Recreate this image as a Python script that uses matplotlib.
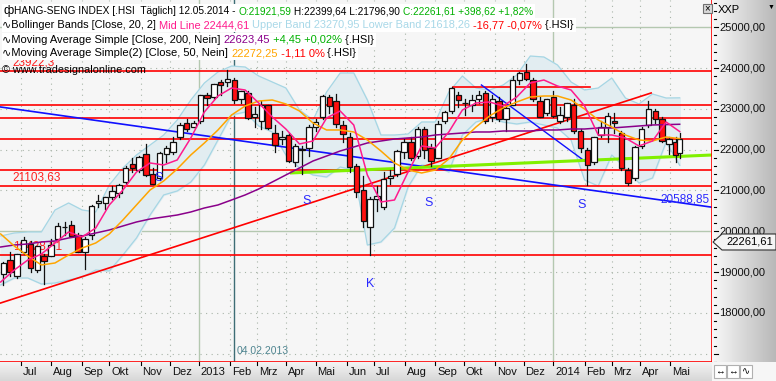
import numpy as np
import pandas as pd
import matplotlib
matplotlib.use("Agg")
import matplotlib.pyplot as plt
from matplotlib.patches import Rectangle, Polygon
from matplotlib.transforms import IdentityTransform

plt.rcParams['font.family'] = ['Liberation Sans', 'DejaVu Sans']

# weekly candles (weeks starting 2012-06-11)
op = [18950, 19300, 18900, 19500, 19700, 19050, 19400, 19400, 19800, 20100,
      20150, 19900, 19500, 19900, 20700, 20700, 20850, 20950, 21200, 21650,
      21500, 21900, 21400, 21300, 21900, 21950, 22300, 22650, 22550, 22700,
      23350, 23300, 23650, 23650, 23700, 23250, 23400, 22800, 22700, 23100,
      22400, 22250, 22350, 21700, 22000, 22050, 22550, 22800, 23300, 23200,
      22600, 22300, 21600, 21000, 20100, 20800, 20600, 21300, 21400, 21950,
      22200, 21850, 22500, 22050, 21800, 22700, 22950, 23350, 23150, 23100,
      23250, 23400, 22800, 23200, 22750, 23100, 23700, 23900, 23700, 23200,
      22900, 23300, 22700, 22800, 23100, 22450, 22000, 21700, 22350, 22550,
      22700, 22400, 21500, 21300, 22100, 22600, 22950, 22750, 22150, 22200,
      21921.59]
hi = [19250, 19500, 19450, 19870, 19750, 19650, 19450, 19800, 20200, 20220,
      20250, 19950, 19850, 20650, 20900, 20850, 21100, 21150, 21600, 21800,
      21850, 22150, 21550, 21950, 22100, 22300, 22650, 22750, 22700, 23350,
      23400, 23620, 23700, 23945, 23750, 23450, 23450, 23050, 23200, 23100,
      22600, 22450, 22400, 22150, 22100, 22600, 22750, 23340, 23350, 23366,
      22700, 22400, 21650, 21350, 20850, 21100, 21450, 21500, 22000, 22250,
      22300, 22550, 22550, 22150, 22700, 22950, 23530, 23420, 23250, 23350,
      23450, 23450, 23350, 23300, 23050, 23800, 23900, 24111, 23750, 23300,
      23250, 23450, 23050, 23150, 23250, 22500, 22050, 22300, 22700, 22900,
      22900, 22450, 21550, 22100, 22550, 23186, 23000, 22800, 22300, 22300,
      22399.64]
lo = [18680, 18900, 18850, 19450, 19000, 19000, 18710, 19400, 19800, 19900,
      19880, 19480, 19076, 19800, 20600, 20550, 20800, 20850, 21150, 21450,
      21450, 21350, 21150, 21250, 21700, 21900, 22250, 22450, 22550, 22650,
      23100, 23250, 23350, 23550, 23150, 23150, 22750, 22550, 22500, 22500,
      21950, 22150, 21700, 21600, 21400, 21850, 22450, 22750, 22900, 22550,
      22200, 21450, 20850, 20100, 19426, 20500, 20550, 21150, 21350, 21800,
      21750, 21800, 21800, 21600, 21800, 22650, 22900, 23050, 22850, 22950,
      23150, 22650, 22700, 22700, 22450, 23100, 23600, 23700, 23200, 22800,
      22850, 22800, 22650, 22700, 22400, 21950, 21137, 21650, 22300, 22200,
      22400, 21500, 21137, 21250, 22050, 22550, 22650, 22200, 21900, 21700,
      21796.90]
cl = [19233, 18995, 19441, 19797, 19092, 19641, 19276, 19666, 20136, 20116,
      19880, 19482, 19802, 20629, 20734, 20840, 20999, 21136, 21551, 21545,
      21830, 21384, 21159, 21913, 22030, 22191, 22606, 22506, 22666, 23331,
      23264, 23601, 23580, 23721, 23215, 23444, 22782, 22880, 23091, 22533,
      22115, 22299, 21727, 22089, 22013, 22547, 22690, 23321, 23082, 22618,
      22392, 21575, 20970, 20263, 20803, 20855, 21277, 21363, 21968, 22190,
      21807, 22517, 22001, 21731, 22621, 22915, 23502, 23207, 23138, 23218,
      23340, 22698, 23250, 22744, 23032, 23696, 23881, 23743, 23245, 22813,
      23244, 22817, 22846, 23133, 22450, 22035, 21636, 22299, 22568, 22837,
      22660, 21539, 21182, 22065, 22511, 23003, 22760, 22223, 22260, 21862,
      22261.61]

# indicator lines read every 10 trading days
ind_day = list(range(0, 501, 10))
bb_upper = [19885, 19958, 19983, 19983, 20522, 20694, 20522, 20473, 21135, 21551,
            21870, 22115, 22360, 22728, 23218, 23635, 23904, 24051, 24027, 23806,
            23659, 23512, 22973, 22728, 23414, 23880, 23880, 23218, 22360, 22360,
            22385, 22679, 22679, 23414, 23806, 23512, 23463, 23586, 23831, 24296,
            24272, 24076, 23659, 23463, 23512, 23757, 23267, 23120, 23365, 23267,
            23271]
bb_lower = [18684, 18855, 18855, 18708, 18733, 18807, 18880, 19051, 19027, 19419,
            19836, 20399, 20890, 20988, 21208, 21625, 22238, 22850, 22924, 22581,
            22434, 21870, 21551, 21380, 21331, 21576, 21502, 19664, 19738, 20081,
            21086, 21625, 21600, 21453, 22360, 22679, 22777, 22679, 22630, 22679,
            22605, 22532, 22238, 21257, 21110, 21870, 21551, 21184, 21306, 22189,
            21618]
bb_mid = [18757, 19051, 19296, 19443, 19713, 19983, 19860, 20081, 20645, 21012,
          21453, 21674, 21625, 21748, 22287, 22924, 23316, 23512, 23463, 23144,
          22801, 22507, 22140, 22213, 22777, 22948, 22605, 21380, 20718, 20767,
          21453, 22091, 22042, 22434, 22973, 23144, 23169, 23071, 23291, 23635,
          23708, 23561, 23463, 23071, 22360, 22360, 22287, 22091, 22213, 22679,
          22445]
sma200 = [19615, 19664, 19689, 19738, 19762, 19836, 19885, 19958, 20032, 20130,
          20228, 20301, 20350, 20399, 20473, 20571, 20645, 20767, 20890, 21037,
          21208, 21380, 21551, 21723, 21845, 21968, 22066, 22164, 22213, 22262,
          22287, 22311, 22360, 22385, 22409, 22434, 22434, 22458, 22458, 22458,
          22483, 22483, 22507, 22507, 22532, 22532, 22556, 22581, 22605, 22615,
          22623]
sma50 = [19934, 19639, 19394, 19174, 19223, 19419, 19590, 19713, 19934, 20277,
         20645, 21012, 21233, 21527, 21870, 22164, 22483, 22850, 23071, 23193,
         23218, 23120, 22949, 22654, 22483, 22483, 22434, 22238, 21968, 21674,
         21502, 21429, 21502, 21772, 22238, 22556, 22826, 23022, 23169, 23291,
         23316, 23316, 23218, 22997, 22728, 22556, 22360, 22238, 22213, 22311,
         22272]

# drawn levels and trend lines (trading day, price)
red_levels = [23922.3, 23095, 22777, 22262, 21502, 21103.63, 19428.81]
red_short = (333, 434, 23537)
red_trend = [(0, 18243), (479, 23390)]
blue_trend = [(0, 23046), (524, 20589)]
blue_short = [(354, 23586), (431, 21698)]
lime_trend = [(213, 21429), (524, 21870)]
marks = [("S", 116, 21306), ("S", 225, 20743), ("S", 315, 20694),
         ("S", 428, 20645), ("K", 272, 18708)]

mon_de = ['Jan', 'Feb', 'Mrz', 'Apr', 'Mai', 'Jun', 'Jul', 'Aug', 'Sep', 'Okt', 'Nov', 'Dez']

W, H = 776, 381
fig = plt.figure(figsize=(W / 100, H / 100), dpi=100)
ax = fig.add_axes([0, 19 / H, 712 / W, 362 / H])
ax.set_facecolor('#f6f6f6')
ymin, ymax = 16796, 25669
xmax = 523.8
ax.set_xlim(-0.5, xmax)
ax.set_ylim(ymin, ymax)
ax.set_xticks([])
ax.set_yticks([])
for s in ['left', 'top']:
    ax.spines[s].set_visible(False)
for s in ['right', 'bottom']:
    ax.spines[s].set_color('red')
    ax.spines[s].set_linewidth(1.2)

dates = pd.bdate_range('2012-06-11', '2014-05-12')
day = np.arange(len(dates))
week = (dates - dates[0]).days // 7
wx = pd.Series(day).groupby(np.asarray(week)).mean().values

# month ticks
mstart = pd.Series(day, index=dates).groupby([dates.year, dates.month]).first()
ticks = []
for (yy, mm), d in mstart.items():
    if (yy, mm) == (2012, 6):
        continue
    ticks.append((d, str(yy) if mm == 1 else mon_de[mm - 1], mm == 1))

# grid
for v in range(17000, 25001, 1000):
    if v % 5000 == 0:
        ax.axhline(v, color='#b4c8b0', lw=1, zorder=0.5)
    else:
        ax.axhline(v, color='#a8b4a8', lw=0.8, ls=(0, (1, 4)), zorder=0.5)
for d, lab, yr in ticks:
    if yr:
        ax.axvline(d, color='#b4c8b0', lw=1, zorder=0.5)
    else:
        ax.axvline(d, color='#a8b4a8', lw=0.8, ls=(0, (1, 4)), zorder=0.5)
d_mark = int(np.searchsorted(dates, pd.Timestamp('2013-02-04')))
ax.axvline(d_mark + 1.5, color='#3d6d75', lw=1, zorder=0.6)
ax.text(d_mark + 3.5, 17066, '04.02.2013', color='#4f8590', fontsize=7.5, va='center', ha='left')

# bollinger band
ax.fill_between(ind_day, bb_lower, bb_upper, color='#e2edf1', zorder=1)
ax.plot(ind_day, bb_upper, color='#a6d6e4', lw=0.9, zorder=1.2)
ax.plot(ind_day, bb_lower, color='#a6d6e4', lw=0.9, zorder=1.2)

# levels
for v in red_levels:
    ax.axhline(v, color='#ff0000', lw=1.2, zorder=2)
ax.plot(red_short[:2], [red_short[2]] * 2, color='#ff0000', lw=1.2, zorder=2)
ax.plot(*zip(*red_trend), color='#ff0000', lw=1.2, zorder=2)
ax.plot(*zip(*blue_trend), color='#1010ff', lw=1.2, zorder=2)
ax.plot(*zip(*blue_short), color='#1010ff', lw=1, zorder=2)
ax.plot(*zip(*lime_trend), color='#80f000', lw=2.2, zorder=2, solid_capstyle='butt')
for v, s in [(23922.3, '23922,3'), (21103.63, '21103,63'), (19428.81, '19428,81')]:
    ax.text(9, v + 60, s, color='#ff2020', fontsize=8.5, va='bottom', ha='left', zorder=1.5)

# candles
for x, o, h, l, c in zip(wx, op, hi, lo, cl):
    ax.plot([x, x], [l, h], color='#101010', lw=0.9, zorder=2.5)
    ax.add_patch(Rectangle((x - 2.0, min(o, c)), 4.0, max(abs(c - o), 8),
                           facecolor='#ff1010' if c < o else 'white',
                           edgecolor='#101010', lw=0.9, zorder=2.6))

# averages
ax.plot(ind_day, sma200, color='#8a008a', lw=1.1, zorder=3)
ax.plot(ind_day, sma50, color='#ffa500', lw=1.1, zorder=3)
ax.plot(ind_day, bb_mid, color='#ff1a8c', lw=1.1, zorder=3)

for s, x, y in marks:
    ax.text(x, y, s, color='#2a2aff', fontsize=9, ha='center', va='center', zorder=3)
ax.text(blue_trend[1][0] - 2, blue_trend[1][1] + 40, '20588,85', color='#2a2aff',
        fontsize=8.5, ha='right', va='bottom', zorder=3)

# right price panel
axr = fig.add_axes([712 / W, 19 / H, 64 / W, 362 / H])
axr.imshow(np.linspace(0.97, 0.72, 64)[None, :], cmap='gray', vmin=0, vmax=1,
           aspect='auto', extent=[0, 64, ymin, ymax], zorder=0)
axr.set_xlim(0, 64)
axr.set_ylim(ymin, ymax)
axr.axis('off')
for v in range(16800, 25601, 200):
    axr.plot([1.5, 3.5 if v % 1000 else 5.5], [v, v], color='black', lw=0.8)
for v in range(18000, 25001, 1000):
    axr.text(7, v, f'{v},00', fontsize=8, va='center', ha='left', color='#101010')

# bottom date panel
axb = fig.add_axes([0, 0, 712 / W, 19 / H])
axb.imshow(np.linspace(0.95, 0.84, 19)[:, None], cmap='gray', vmin=0, vmax=1,
           aspect='auto', extent=[-0.5, xmax, 0, 19], zorder=0)
axb.set_xlim(-0.5, xmax)
axb.set_ylim(0, 19)
axb.axis('off')
for d, lab, yr in ticks:
    axb.plot([d, d], [19, 16], color='black', lw=0.8)
    axb.text(d + 1.3, 9, lab, fontsize=8, va='center', ha='left', color='#101010')

# corner
axc = fig.add_axes([712 / W, 0, 64 / W, 19 / H])
axc.set_xlim(0, 64)
axc.set_ylim(0, 19)
axc.axis('off')
axc.add_patch(Rectangle((0, 0), 64, 19, color='#f6f6f6'))
for i, sym in enumerate(['↔', '↔', '∿']):
    axc.add_patch(Rectangle((2 + i * 13, 3), 12, 13, facecolor='white', edgecolor='#b0b0b0', lw=0.8))
    axc.text(8 + i * 13, 9.5, sym, fontsize=7, ha='center', va='center')

# header
renderer = fig.canvas.get_renderer()
T = IdentityTransform()


def row(y, parts, x0=14, box=True, fs=8.0):
    x = x0
    for s, c in parts:
        t = fig.text(x, H - y, s, color=c, fontsize=fs, va='center', ha='left', transform=T, zorder=5)
        x += t.get_window_extent(renderer).width
    if box:
        fig.add_artist(Rectangle((2, H - y - 7), x - 2 + 2, 14, transform=T,
                                 facecolor='white', edgecolor='none', zorder=4))


row(11, [('HANG-SENG INDEX [.HSI  Täglich] 12.05.2014 - ', 'black'), ('O:21921,59', '#00b000'),
         (' H:22399,64 L:21796,90 ', 'black'), ('C:22261,61 +398,62 +1,82%', '#00b000')], fs=7.3)
fig.text(3, H - 11, 'ф', fontsize=9, va='center', ha='left', transform=T, zorder=6)
row(25, [('∿Bollinger Bands [Close, 20, 2] ', 'black'), ('Mid Line 22444,61', '#ff1a8c'),
         (' Upper Band 23270,95 Lower Band 21618,26', '#a8d8e8'), (' -16,77 -0,07%', '#ff0000'),
         (' {.HSI}', 'black')], x0=2, fs=7.9)
row(40, [('∿Moving Average Simple [Close, 200, Nein] ', 'black'), ('22623,45', '#8a008a'),
         (' +4,45 +0,02%', '#00b000'), (' {.HSI}', 'black')], x0=2, fs=8.0)
row(53, [('∿Moving Average Simple(2) [Close, 50, Nein] ', 'black'), ('22272,25', '#ffa500'),
         (' -1,11 0%', '#ff0000'), (' {.HSI}', 'black')], x0=2, fs=8.0)
row(70, [('© www.tradesignalonline.com', 'black')], x0=2, box=False, fs=7.8)

# top right controls
fig.text(718, H - 10, 'XXP', fontsize=8, va='center', ha='left', transform=T)
fig.text(768, H - 7, '▼', fontsize=5, va='center', ha='left', transform=T)
fig.add_artist(Rectangle((703, H - 13), 9, 9, transform=T, facecolor='#d8d8d8', edgecolor='#707070', lw=0.8))
fig.text(707.5, H - 8.5, '×', fontsize=7, va='center', ha='center', transform=T)

# last price tag
yl = H - 19 - (cl[-1] - ymin) / (ymax - ymin) * 362
fig.add_artist(Polygon([(713, yl), (722, yl + 8), (776, yl + 8), (776, yl - 8), (722, yl - 8)],
                       closed=True, transform=T, facecolor='#f4f4f4', edgecolor='#303030', lw=0.8, zorder=4))
fig.text(726, yl, '22261,61', fontsize=8, va='center', ha='left', transform=T, zorder=5)

fig.savefig('out.png', dpi=100)
